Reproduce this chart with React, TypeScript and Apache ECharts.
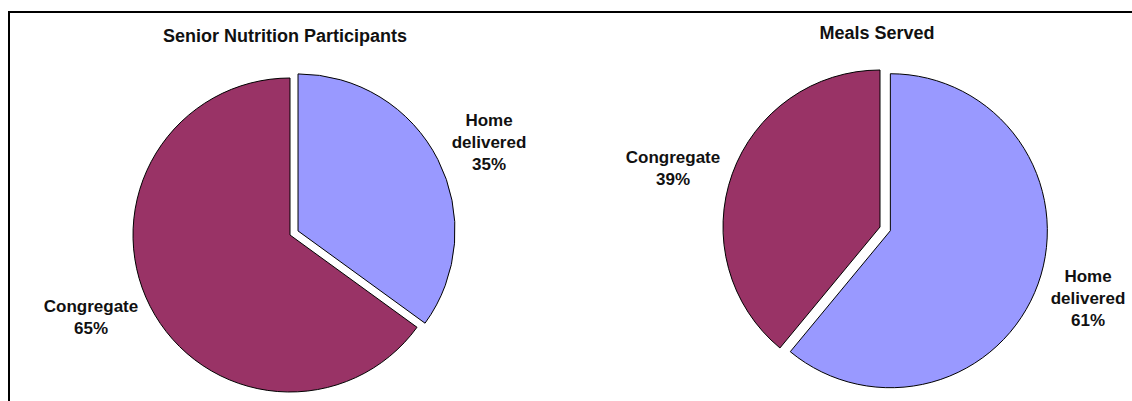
import React, { useEffect, useRef } from "react";
import * as echarts from "echarts";

// ---- data ----
const LEFT_TITLE = "Senior Nutrition Participants";
const RIGHT_TITLE = "Meals Served";
const LEFT_CATEGORIES = ["Home delivered", "Congregate"];
const LEFT_VALUES = [35, 65];
const RIGHT_CATEGORIES = ["Home delivered", "Congregate"];
const RIGHT_VALUES = [61, 39];
const EXPLODED = "Home delivered";

// ---- styles / layout ----
const COLORS: Record<string, string> = {
  "Home delivered": "#9999FF",
  Congregate: "#993366",
};
const FONT = "'Liberation Sans', Arial, sans-serif";
const PIE_RADIUS = 157;
const LEFT_CENTER = [290, 235];
const RIGHT_CENTER = [880, 227];
const LEFT_LABEL_POS = [
  [489, 142],
  [91, 317],
];
const RIGHT_LABEL_POS = [
  [1088, 298],
  [673, 168],
];

export default function App() {
  const ref = useRef<HTMLDivElement>(null);

  useEffect(() => {
    if (!ref.current) return;
    const chart = echarts.init(ref.current, undefined, { renderer: "svg" });

    const makeData = (cats: string[], vals: number[], withSelect: boolean) =>
      cats.map((c, i) => ({
        name: c,
        value: vals[i],
        selected: withSelect && c === EXPLODED,
        itemStyle: { color: withSelect ? COLORS[c] : "rgba(0,0,0,0)" },
      }));

    const makeSlices = (cats: string[], vals: number[], center: number[], offset: number) => ({
      type: "pie",
      center,
      radius: PIE_RADIUS,
      startAngle: 90,
      clockwise: true,
      selectedMode: "single",
      selectedOffset: offset,
      avoidLabelOverlap: false,
      itemStyle: { borderColor: "#000", borderWidth: 1 },
      label: { show: false },
      labelLine: { show: false },
      emphasis: { scale: false },
      data: makeData(cats, vals, true),
    });

    const makeLabels = (cats: string[], vals: number[], center: number[], labelPos: number[][]) => ({
      type: "pie",
      center,
      radius: PIE_RADIUS,
      startAngle: 90,
      clockwise: true,
      silent: true,
      selectedMode: false,
      avoidLabelOverlap: false,
      itemStyle: { borderWidth: 0 },
      label: {
        show: true,
        position: "outside",
        formatter: (p: any) => `${p.name.replace(" ", "\n")}\n${p.percent}%`,
        fontFamily: FONT,
        fontWeight: "bold",
        fontSize: 17,
        lineHeight: 22,
        color: "#111",
        align: "center",
      },
      labelLine: { show: false },
      labelLayout: (p: any) => ({
        x: labelPos[p.dataIndex][0],
        y: labelPos[p.dataIndex][1],
        align: "center",
        verticalAlign: "middle",
      }),
      emphasis: { disabled: true },
      data: makeData(cats, vals, false),
    });

    chart.setOption({
      animation: false,
      backgroundColor: "#fff",
      title: [
        {
          text: LEFT_TITLE,
          left: 280,
          top: 22,
          textAlign: "center",
          textStyle: { fontFamily: FONT, fontWeight: "bold", fontSize: 18, color: "#111" },
        },
        {
          text: RIGHT_TITLE,
          left: 872,
          top: 19,
          textAlign: "center",
          textStyle: { fontFamily: FONT, fontWeight: "bold", fontSize: 18, color: "#111" },
        },
      ],
      graphic: [
        {
          type: "line",
          shape: { x1: 8, y1: 12, x2: 1132, y2: 12 },
          style: { stroke: "#000", lineWidth: 2 },
        },
        {
          type: "line",
          shape: { x1: 9, y1: 11, x2: 9, y2: 401 },
          style: { stroke: "#000", lineWidth: 2 },
        },
      ],
      series: [
        makeSlices(LEFT_CATEGORIES, LEFT_VALUES, LEFT_CENTER, 9),
        makeSlices(RIGHT_CATEGORIES, RIGHT_VALUES, RIGHT_CENTER, 11),
        makeLabels(LEFT_CATEGORIES, LEFT_VALUES, LEFT_CENTER, LEFT_LABEL_POS),
        makeLabels(RIGHT_CATEGORIES, RIGHT_VALUES, RIGHT_CENTER, RIGHT_LABEL_POS),
      ],
    });

    return () => chart.dispose();
  }, []);

  return (
    <div
      ref={ref}
      style={{ position: "fixed", left: 0, top: 0, width: 1132, height: 401 }}
    />
  );
}
